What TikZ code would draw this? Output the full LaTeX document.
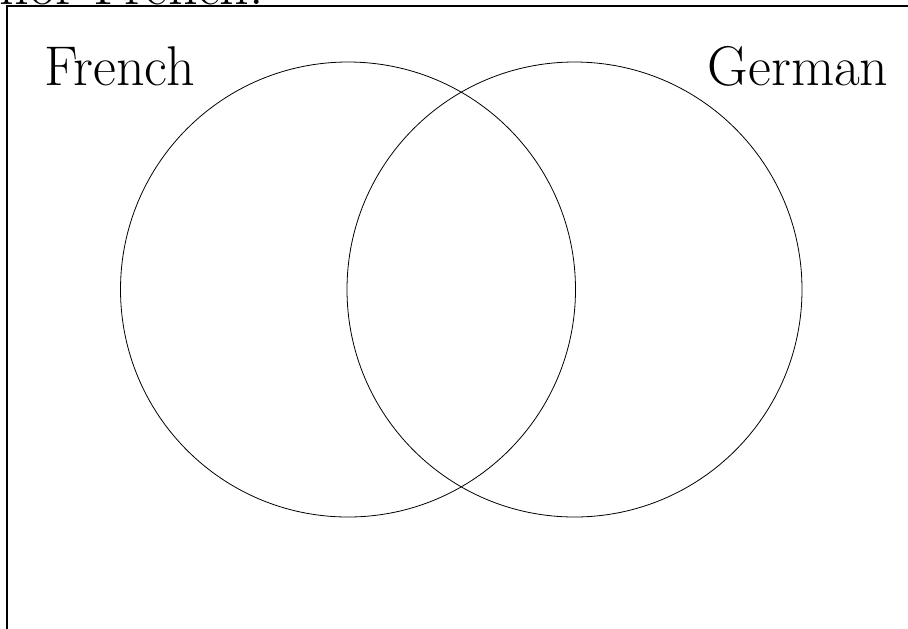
\documentclass[tikz,border=0pt]{standalone}
\usepackage{tikz}
\usetikzlibrary{positioning}

\begin{document}
\begin{tikzpicture}[
    x=0.5pt, y=-0.5pt,
    set/.style={circle, draw, thin, minimum size=227.5pt, inner sep=0pt},
    setlabel/.style={font=\fontsize{28}{34}\selectfont, inner sep=0pt},
    frame/.style={draw, line width=0.8pt},
]
    \useasboundingbox (0,0) rectangle (908,628);
    \clip (0,0) rectangle (908,628);

    % cut-off text above the frame
    \node[font=\fontsize{29}{35}\selectfont, inner sep=0pt, anchor=base west] (caption) at (-1,4.5) {nor French.};
    \draw[frame] (7,1200) -- (7,6) -- (1400,6);

    \node[set] (french) at (348,289.5) {};
    \node[set] (german) at (574.5,289.5) {};

    \node[setlabel, anchor=base west] (lfrench) at (44,85) {French};
    \node[setlabel, anchor=base east] (lgerman) at (889,85) {German};
\end{tikzpicture}
\end{document}
